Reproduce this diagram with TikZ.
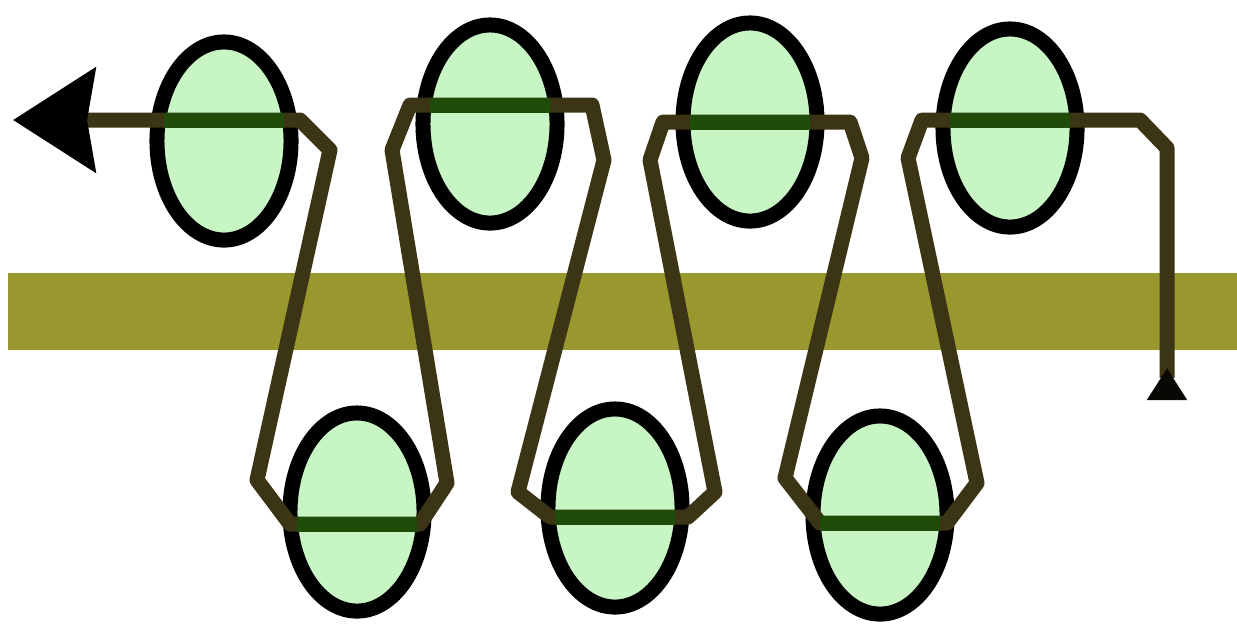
\documentclass[tikz,border=0pt]{standalone}
\usepackage{tikz}
\usepackage{xcolor}
\usetikzlibrary{shapes.geometric,arrows.meta}
\definecolor{Band}{HTML}{98982F}
\definecolor{Thread}{HTML}{3B3415}
\definecolor{RollerFill}{HTML}{C8F5C4}
\definecolor{ThreadIn}{HTML}{1F4C08}
\tikzset{
  roller/.style={ellipse, draw=black, fill=RollerFill, line width=0.15cm,
    minimum width=1.34cm, minimum height=1.98cm, inner sep=0pt},
  thread/.style={draw=Thread, line width=0.15cm, line join=round},
  threadin/.style={draw=ThreadIn, line width=0.15cm}
}
\newcommand{\nip}[2]{% x, y of the thread inside a roller
  \draw[threadin] (#1-60,#2) -- (#1+60,#2);
}

\begin{document}
\begin{tikzpicture}[x=0.01cm, y=-0.01cm]
\useasboundingbox (0,0) rectangle (1237,626);
\fill[white] (0,0) rectangle (1237,626);

% Olive band
\fill[Band] (8,273) rectangle (1237,350);

% Rollers, top row and bottom row
\node[roller] (top1) at (224,141) {};
\node[roller] (top2) at (490,124) {};
\node[roller] (top3) at (750,122) {};
\node[roller] (top4) at (1010,128) {};
\node[roller] (bot1) at (357,512) {};
\node[roller] (bot2) at (615,508) {};
\node[roller] (bot3) at (880,515) {};

% Thread, from the foot on the right to the arrow on the left
\draw[thread, {Triangle[reversed, length=0.32cm, width=0.38cm, color=black!85!Thread]}-{Stealth[length=0.82cm, width=1.03cm, inset=0.08cm, color=black]}]
  (1167,400) -- (1167,148) -- (1140,120) -- (922,120) -- (908,158)
  -- (977,483) -- (947,523) -- (820,523) -- (785,478)
  -- (862,158) -- (850,122) -- (663,122) -- (650,160)
  -- (715,492) -- (688,517) -- (550,517) -- (518,492)
  -- (604,160) -- (592,105) -- (410,105) -- (392,150)
  -- (447,483) -- (420,524) -- (290,524) -- (257,480)
  -- (330,150) -- (300,120) -- (13,120);

% Thread seen through the rollers
\nip{224}{120}
\nip{490}{105}
\nip{750}{122}
\nip{1010}{120}
\nip{357}{524}
\nip{615}{517}
\nip{880}{523}

\end{tikzpicture}
\end{document}
